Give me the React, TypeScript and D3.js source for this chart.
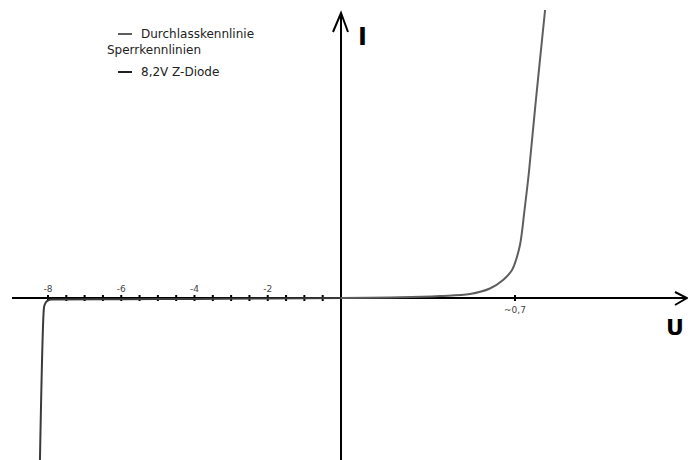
import React, { useEffect, useRef } from 'react';
import * as d3 from 'd3';

// forward characteristic (U in V, I in mA)
const forwardU = [0, 0.237, 0.398, 0.519, 0.599, 0.652, 0.688, 0.704, 0.72, 0.728, 0.736, 0.756, 0.784, 0.821];
const forwardI = [0, 0.07, 0.21, 0.42, 0.99, 1.88, 2.92, 3.96, 5.52, 6.88, 8.65, 13.1, 20.6, 30];

// reverse characteristic of the 8,2V Z-diode
const reverseU = [-8.22, -8.11, -8.08, -8.02, -7.9, -6, -4, -2, 0];
const reverseI = [-16.9, -1, -0.6, -0.3, -0.15, -0.12, -0.1, -0.05, 0];

const minorTicks = [-8, -7.5, -7, -6.5, -6, -5.5, -5, -4.5, -4, -3.5, -3, -2.5, -2, -1.5, -1, -0.5];
const labelTicks = [-8, -6, -4, -2];
const positiveTicks = [0.7];
const positiveLabels = ['~0,7'];

const legendItems = ['Durchlasskennlinie', '8,2V Z-Diode'];
const legendHeader = 'Sperrkennlinien';

const App: React.FC = () => {
  const ref = useRef<SVGSVGElement | null>(null);

  useEffect(() => {
    const width = 688;
    const height = 460;
    const svg = d3.select(ref.current);
    svg.selectAll('*').remove();
    svg.attr('width', width).attr('height', height);

    // piecewise scale: negative side is compressed, positive side stretched
    const x = d3.scaleLinear().domain([-8, 0, 0.7]).range([48, 341, 515]);
    const y = d3.scaleLinear().domain([0, 30]).range([298, 10]);

    const font = 'DejaVu Sans, sans-serif';

    // axes
    svg.append('line')
      .attr('x1', 12).attr('x2', 686)
      .attr('y1', y(0)).attr('y2', y(0))
      .attr('stroke', '#000').attr('stroke-width', 2);
    svg.append('path')
      .attr('d', `M${675},${y(0) - 6}L${687},${y(0)}L${675},${y(0) + 7}`)
      .attr('fill', 'none').attr('stroke', '#000').attr('stroke-width', 2);

    svg.append('line')
      .attr('x1', x(0)).attr('x2', x(0))
      .attr('y1', 14).attr('y2', height)
      .attr('stroke', '#000').attr('stroke-width', 2);
    svg.append('path')
      .attr('d', `M${x(0) - 8},${32}L${x(0)},${13}L${x(0) + 7},${32}`)
      .attr('fill', 'none').attr('stroke', '#000').attr('stroke-width', 2);

    // ticks
    svg.append('g').selectAll('line')
      .data(minorTicks.concat(positiveTicks))
      .enter()
      .append('line')
      .attr('x1', d => x(d)).attr('x2', d => x(d))
      .attr('y1', y(0) - 3).attr('y2', y(0) + 3)
      .attr('stroke', '#000').attr('stroke-width', 2);

    svg.append('g').selectAll('text')
      .data(labelTicks)
      .enter()
      .append('text')
      .attr('x', d => x(d))
      .attr('y', y(0) - 6)
      .attr('text-anchor', 'middle')
      .attr('font-family', font)
      .attr('font-size', 9)
      .attr('fill', '#444')
      .text(d => `-${Math.abs(d)}`);

    svg.append('g').selectAll('text')
      .data(positiveTicks)
      .enter()
      .append('text')
      .attr('x', d => x(d))
      .attr('y', y(0) + 15)
      .attr('text-anchor', 'middle')
      .attr('font-family', font)
      .attr('font-size', 9)
      .attr('fill', '#444')
      .text((_d, i) => positiveLabels[i]);

    // axis names
    svg.append('text')
      .attr('x', 358).attr('y', 45)
      .attr('font-family', font).attr('font-weight', 'bold').attr('font-size', 24)
      .text('I');
    svg.append('text')
      .attr('x', 666).attr('y', 335)
      .attr('font-family', font).attr('font-weight', 'bold').attr('font-size', 22)
      .text('U');

    // curves
    const revLine = d3.line<[number, number]>()
      .x(d => x(d[0]))
      .y(d => y(d[1]))
      .curve(d3.curveMonotoneX);
    // smoother knee for the forward branch
    const fwdLine = d3.line<[number, number]>()
      .x(d => x(d[0]))
      .y(d => y(d[1]))
      .curve(d3.curveCatmullRom.alpha(0.5));

    const fwd: [number, number][] = forwardU.map((u, i) => [u, forwardI[i]]);
    const rev: [number, number][] = reverseU.map((u, i) => [u, reverseI[i]]);

    svg.append('path')
      .attr('d', revLine(rev) || '')
      .attr('fill', 'none')
      .attr('stroke', '#3a3a3a')
      .attr('stroke-width', 2);

    svg.append('path')
      .attr('d', fwdLine(fwd) || '')
      .attr('fill', 'none')
      .attr('stroke', '#5e5e5e')
      .attr('stroke-width', 2);

    // legend
    const legendColors = ['#5e5e5e', '#222'];
    const legendY = [34, 72];
    legendItems.forEach((label, i) => {
      svg.append('line')
        .attr('x1', 118).attr('x2', 132)
        .attr('y1', legendY[i]).attr('y2', legendY[i])
        .attr('stroke', legendColors[i]).attr('stroke-width', 2);
      svg.append('text')
        .attr('x', 141).attr('y', legendY[i] + 4)
        .attr('font-family', font).attr('font-size', 12)
        .attr('fill', '#222')
        .text(label);
    });
    svg.append('text')
      .attr('x', 107).attr('y', 54)
      .attr('font-family', font).attr('font-size', 12)
      .attr('fill', '#222')
      .text(legendHeader);
  }, []);

  return (
    <div style={{ position: 'absolute', left: 0, top: 0, background: '#fff' }}>
      <svg ref={ref} style={{ display: 'block' }} />
    </div>
  );
};

export default App;
